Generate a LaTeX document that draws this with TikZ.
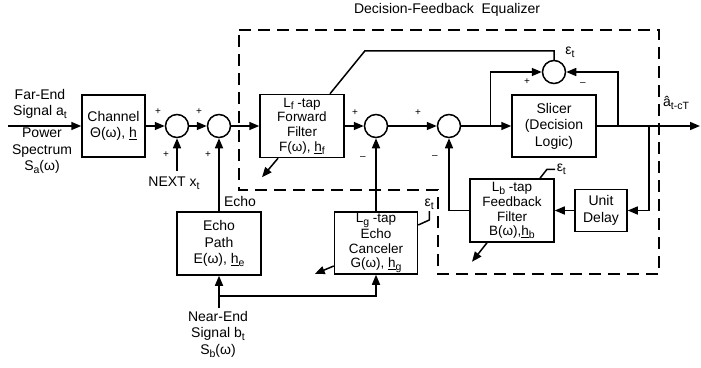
\documentclass[tikz,border=0pt]{standalone}
\usepackage{fontspec}
\setmainfont{Liberation Sans}
\usepackage{tikz}
\usetikzlibrary{arrows.meta, positioning, calc}
\newcommand{\dn}[1]{\raisebox{-0.4ex}{\fontsize{10.5}{10.5}\selectfont #1}}
\tikzstyle{block} = [rectangle, draw, line width=1.5pt, inner sep=0pt, align=center, font=\fontsize{14}{16.5}\selectfont]
\tikzstyle{tapblock} = [block, font=\fontsize{13.5}{14.8}\selectfont]
\tikzstyle{sumnode} = [circle, draw, line width=1.5pt, minimum size=23pt, inner sep=0pt]
\tikzstyle{arrow} = [-{Triangle[length=10pt, width=8pt]}, line width=1.5pt]
\tikzstyle{wire} = [line width=1.5pt]
\tikzstyle{sign} = [font=\fontsize{10}{10}\selectfont, inner sep=0pt]
\tikzstyle{lbl} = [align=center, inner sep=0pt, font=\fontsize{14}{16.5}\selectfont]
\tikzstyle{dfebox} = [line width=1.5pt, dash pattern=on 12pt off 7pt]

\begin{document}
\begin{tikzpicture}[x=1pt, y=-1pt]
    \useasboundingbox (0,0) rectangle (701,367);

    % === Equalizer boundary ===
    \node[lbl] (title) at (447,10) {Decision-Feedback\ \ Equalizer};
    \draw[dfebox] (239,30) -- (659,30) -- (659,274) -- (438,274) -- (438,190) -- (239,190) -- cycle;

    % === ROW 1: main signal path ===
    \node[block, minimum width=63pt, minimum height=62pt] (chan) at (113.5,126) {Channel\\Θ(ω), \underline{h}};
    \node[sumnode] (sum1) at (177,126) {};
    \node[sumnode] (sum2) at (219,126) {};
    \node[tapblock, minimum width=84pt, minimum height=63pt] (fwd) at (302,126) {L\dn{f} -tap\\Forward\\Filter\\F(ω), \underline{h}\dn{f}};
    \node[sumnode] (sum3) at (376,126) {};
    \node[sumnode] (sum4) at (449,126) {};
    \node[block, minimum width=84pt, minimum height=62pt] (slicer) at (554,126) {Slicer\\(Decision\\Logic)};
    \node[sumnode] (errsum) at (554,72) {};

    % === ROW 2: echo path, canceler, feedback ===
    \node[block, minimum width=84pt, minimum height=63pt] (echopath) at (219,243.5) {Echo\\Path\\E(ω), \underline{h}\dn{e}};
    \node[tapblock, minimum width=83pt, minimum height=62pt] (canc) at (376,243) {L\dn{g} -tap\\Echo\\Canceler\\G(ω), \underline{h}\dn{g}};
    \node[tapblock, minimum width=84pt, minimum height=63pt] (fbk) at (512,210.5) {L\dn{b} -tap\\Feedback\\Filter\\B(ω),\underline{h}\dn{b}};
    \node[block, minimum width=52pt, minimum height=42pt] (delay) at (601,210.5) {Unit\\Delay};

    % === outside texts ===
    \node[lbl] (farend-txt) at (40,104) {Far-End\\Signal a\dn{t}};
    \node[lbl] (psd-txt) at (42,151) {Power\\Spectrum\\S\dn{a}(ω)};
    \node[lbl] (next-txt) at (174,183) {NEXT x\dn{t}};
    \node[lbl] (echo-txt) at (240,201) {Echo};
    \node[lbl] (near-txt) at (218,334) {Near-End\\Signal b\dn{t}\\S\dn{b}(ω)};
    \node[lbl, anchor=west] (out-txt) at (663,103) {â\dn{t-cT}};
    \node[lbl] (eps-top) at (570,52) {ε\dn{t}};

    % signs at the summing junctions
    \node[sign] at (158,112) {+};
    \node[sign] at (166,155) {+};
    \node[sign] at (199,112) {+};
    \node[sign] at (208,155) {+};
    \node[sign] at (355,113) {+};
    \node[sign] at (363,158) {--};
    \node[sign] at (418,113) {+};
    \node[sign] at (435,157) {--};
    \node[sign] at (527,82) {+};
    \node[sign] at (583,84) {--};

    % ===== ARROWS =====
    \coordinate (farend) at (8,126);
    \coordinate (next) at (177,171);
    \coordinate (nearend) at (219,308);
    \coordinate (nb) at (219,296);
    \coordinate (out) at (700,126);

    % main path
    \draw[arrow] (farend) -- (chan);
    \draw[arrow] (chan) -- (sum1);
    \draw[arrow] (sum1) -- (sum2);
    \draw[arrow] (sum2) -- (fwd);
    \draw[arrow] (fwd) -- (sum3);
    \draw[arrow] (sum3) -- (sum4);
    \draw[arrow] (sum4) -- (slicer);
    \draw[arrow] (slicer) -- (out);

    % inputs from below
    \draw[arrow] (next) -- (sum1);
    \draw[arrow] (echopath) -- (sum2);
    \draw[arrow] (canc) -- (sum3);
    \draw[arrow] (fbk.west) -| (sum4.south);
    \draw[arrow] (nearend) -- (echopath);
    \draw[arrow] (nb) -| (canc.south);

    % error circle and decision feedback
    \draw[arrow] ([xshift=-21pt]slicer.west) |- (errsum);
    \draw[arrow] ([xshift=21pt]slicer.east) |- (errsum);
    \draw[arrow] ([xshift=52pt]slicer.east) |- (delay);
    \draw[arrow] (delay) -- (fbk);
    \draw[wire] ([xshift=28pt]fwd.north) -- ++(35,-43) -| (errsum);

    % error taps into the adaptive filters
    \draw[wire] ([yshift=18pt]canc.east) -- ++(11,-5) -- ++(0,-9) node[anchor=south, inner sep=1pt, font=\fontsize{14}{16.5}\selectfont] {ε\dn{t}};
    \draw[wire] ([xshift=28pt]fbk.north) -- ++(7,-9) -- ++(8,0) node[anchor=west, inner sep=1pt, font=\fontsize{14}{16.5}\selectfont] {ε\dn{t}};

    % adaptation arrows
    \draw[arrow] ([xshift=-24pt]fwd.south) -- ++(-16,19);
    \draw[arrow] ([yshift=-23pt]canc.west) -- ++(-19,8);
    \draw[arrow] ([xshift=-25pt]fbk.south) -- ++(-15,19);
\end{tikzpicture}
\end{document}
